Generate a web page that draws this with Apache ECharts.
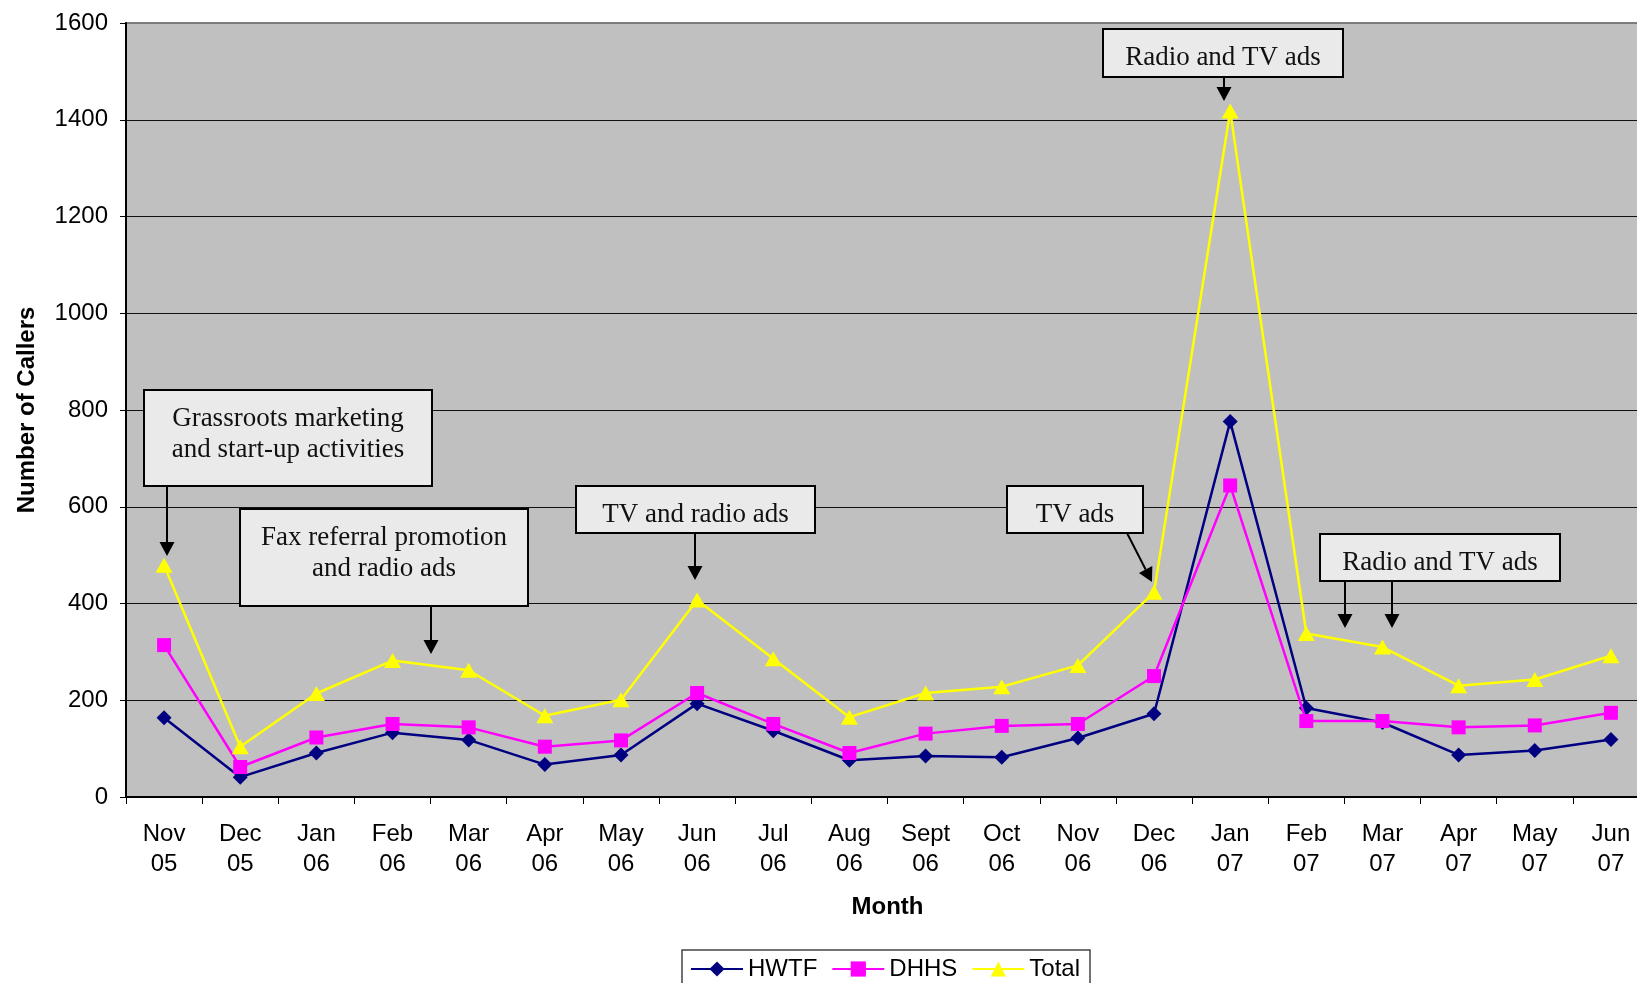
<!DOCTYPE html>
<html>
<head>
<meta charset="utf-8">
<script src="https://cdn.jsdelivr.net/npm/echarts/dist/echarts.min.js"></script>
<style>
html, body { margin: 0; padding: 0; background: #ffffff; }
#chart { width: 1637px; height: 983px; }
</style>
</head>
<body>
<div id="chart"></div>
<script>
// Monthly callers, Nov 2005 – Jun 2007
const months = ['Nov\n05', 'Dec\n05', 'Jan\n06', 'Feb\n06', 'Mar\n06', 'Apr\n06', 'May\n06', 'Jun\n06',
  'Jul\n06', 'Aug\n06', 'Sept\n06', 'Oct\n06', 'Nov\n06', 'Dec\n06', 'Jan\n07', 'Feb\n07',
  'Mar\n07', 'Apr\n07', 'May\n07', 'Jun\n07'];
const hwtf  = [164, 41, 91, 133, 118, 67, 87, 193, 137, 76, 85, 82, 122, 172, 776, 184, 154, 87, 96, 119];
const dhhs  = [314, 62, 123, 151, 144, 104, 117, 215, 151, 91, 131, 147, 151, 250, 644, 157, 157, 144, 148, 174];
const total = [479, 104, 214, 282, 262, 168, 201, 407, 286, 165, 215, 228, 272, 423, 1418, 338, 310, 230, 243, 292];
const seriesNames = ['HWTF', 'DHHS', 'Total'];
const yTicks = { min: 0, max: 1600, step: 200 };

// Callout texts for the outreach campaigns
const calloutTexts = [
  ['Grassroots marketing', 'and start-up activities'],
  ['Fax referral promotion', 'and radio ads'],
  ['TV and radio ads'],
  ['TV ads'],
  ['Radio and TV ads'],
  ['Radio and TV ads']
];

// Callout layout (pixels): box [x, y, w, h] and arrows [from, to]
const calloutLayout = [
  { box: [144, 390, 288, 96],  arrows: [[[167, 486], [167, 556]]] },
  { box: [240, 509, 288, 97],  arrows: [[[431, 606], [431, 654]]] },
  { box: [576, 486, 239, 47],  arrows: [[[695, 533], [695, 580]]] },
  { box: [1007, 486, 136, 47], arrows: [[[1127, 533], [1152, 582]]] },
  { box: [1103, 29, 240, 48],  arrows: [[[1224, 77], [1224, 101]]] },
  { box: [1320, 534, 240, 47], arrows: [[[1345, 581], [1345, 628]], [[1392, 581], [1392, 628]]] }
];

function arrowElements(from, to) {
  const headLen = 14, headHalf = 7.5;
  const dx = to[0] - from[0], dy = to[1] - from[1];
  const len = Math.sqrt(dx * dx + dy * dy);
  const ux = dx / len, uy = dy / len;
  const bx = to[0] - ux * headLen, by = to[1] - uy * headLen;
  const px = -uy, py = ux;
  return [
    { type: 'line', shape: { x1: from[0], y1: from[1], x2: bx, y2: by },
      style: { stroke: '#000', lineWidth: 2 }, z: 100 },
    { type: 'polygon', shape: { points: [[to[0], to[1]], [bx + px * headHalf, by + py * headHalf], [bx - px * headHalf, by - py * headHalf]] },
      style: { fill: '#000' }, z: 100 }
  ];
}

const graphics = [];
calloutTexts.forEach((lines, i) => {
  const L = calloutLayout[i];
  const [x, y, w, h] = L.box;
  graphics.push({ type: 'rect', shape: { x: x, y: y, width: w, height: h },
    style: { fill: '#eaeaea', stroke: '#000', lineWidth: 2 }, z: 100 });
  const lh = 31;
  const cy = y + h / 2 + (lines.length > 1 ? -4 : 5);
  lines.forEach((t, k) => {
    graphics.push({ type: 'text', z: 101,
      style: { text: t, x: x + w / 2, y: cy + (k - (lines.length - 1) / 2) * lh,
        fill: '#111', font: '27px "Liberation Serif", "Times New Roman", serif',
        align: 'center', verticalAlign: 'middle', textAlign: 'center', textVerticalAlign: 'middle' } });
  });
  L.arrows.forEach(a => arrowElements(a[0], a[1]).forEach(e => graphics.push(e)));
});

const chart = echarts.init(document.getElementById('chart'), null, { renderer: 'canvas' });
const axisFont = 'Liberation Sans';
const gridColors = [];
for (let v = yTicks.min; v <= yTicks.max; v += yTicks.step) gridColors.push(v === yTicks.max ? '#7a7a7a' : '#111');

chart.setOption({
  animation: false,
  backgroundColor: '#ffffff',
  grid: { left: 126, top: 23, width: 1523, height: 774, show: true, containLabel: false,
    outerBoundsMode: 'none',
    backgroundColor: '#c0c0c0', borderColor: '#808080', borderWidth: 2 },
  legend: {
    data: seriesNames, left: 682, top: 950, orient: 'horizontal',
    itemWidth: 52, itemHeight: 19, itemGap: 14,
    padding: [7, 10, 14, 8],
    borderColor: '#444', borderWidth: 1.5, backgroundColor: '#ffffff',
    textStyle: { fontFamily: axisFont, fontSize: 24, color: '#000' }
  },
  xAxis: {
    type: 'category', data: months, boundaryGap: true,
    name: 'Month', nameLocation: 'middle', nameGap: 98,
    nameTextStyle: { fontFamily: axisFont, fontSize: 24, fontWeight: 'bold', color: '#000' },
    axisLine: { lineStyle: { color: '#000', width: 2 } },
    axisTick: { show: true, length: 7, lineStyle: { color: '#000', width: 1 } },
    axisLabel: { interval: 0, fontFamily: axisFont, fontSize: 24, lineHeight: 30, margin: 22, color: '#000' },
    splitLine: { show: false }
  },
  yAxis: {
    type: 'value', min: yTicks.min, max: yTicks.max, interval: yTicks.step,
    name: 'Number of Callers', nameLocation: 'middle', nameGap: 87,
    nameTextStyle: { fontFamily: axisFont, fontSize: 24, fontWeight: 'bold', color: '#000' },
    axisLine: { show: true, lineStyle: { color: '#000', width: 2 } },
    axisTick: { show: true, length: 6, lineStyle: { color: '#000', width: 1 } },
    axisLabel: { fontFamily: axisFont, fontSize: 24, margin: 18, color: '#000',
      formatter: v => String(v) },
    splitLine: { show: true, lineStyle: { color: gridColors, width: 1 } }
  },
  series: [
    { name: seriesNames[0], type: 'line', data: hwtf, symbol: 'diamond', symbolSize: [15, 15],
      lineStyle: { color: '#000080', width: 2.5 }, itemStyle: { color: '#000080' }, z: 3 },
    { name: seriesNames[1], type: 'line', data: dhhs, symbol: 'rect', symbolSize: [14, 14],
      lineStyle: { color: '#ff00ff', width: 2.5 }, itemStyle: { color: '#ff00ff' }, z: 4 },
    { name: seriesNames[2], type: 'line', data: total, symbol: 'triangle', symbolSize: [17, 15],
      lineStyle: { color: '#ffff00', width: 2.5 }, itemStyle: { color: '#ffff00' }, z: 5 }
  ],
  graphic: graphics
});
</script>
</body>
</html>
